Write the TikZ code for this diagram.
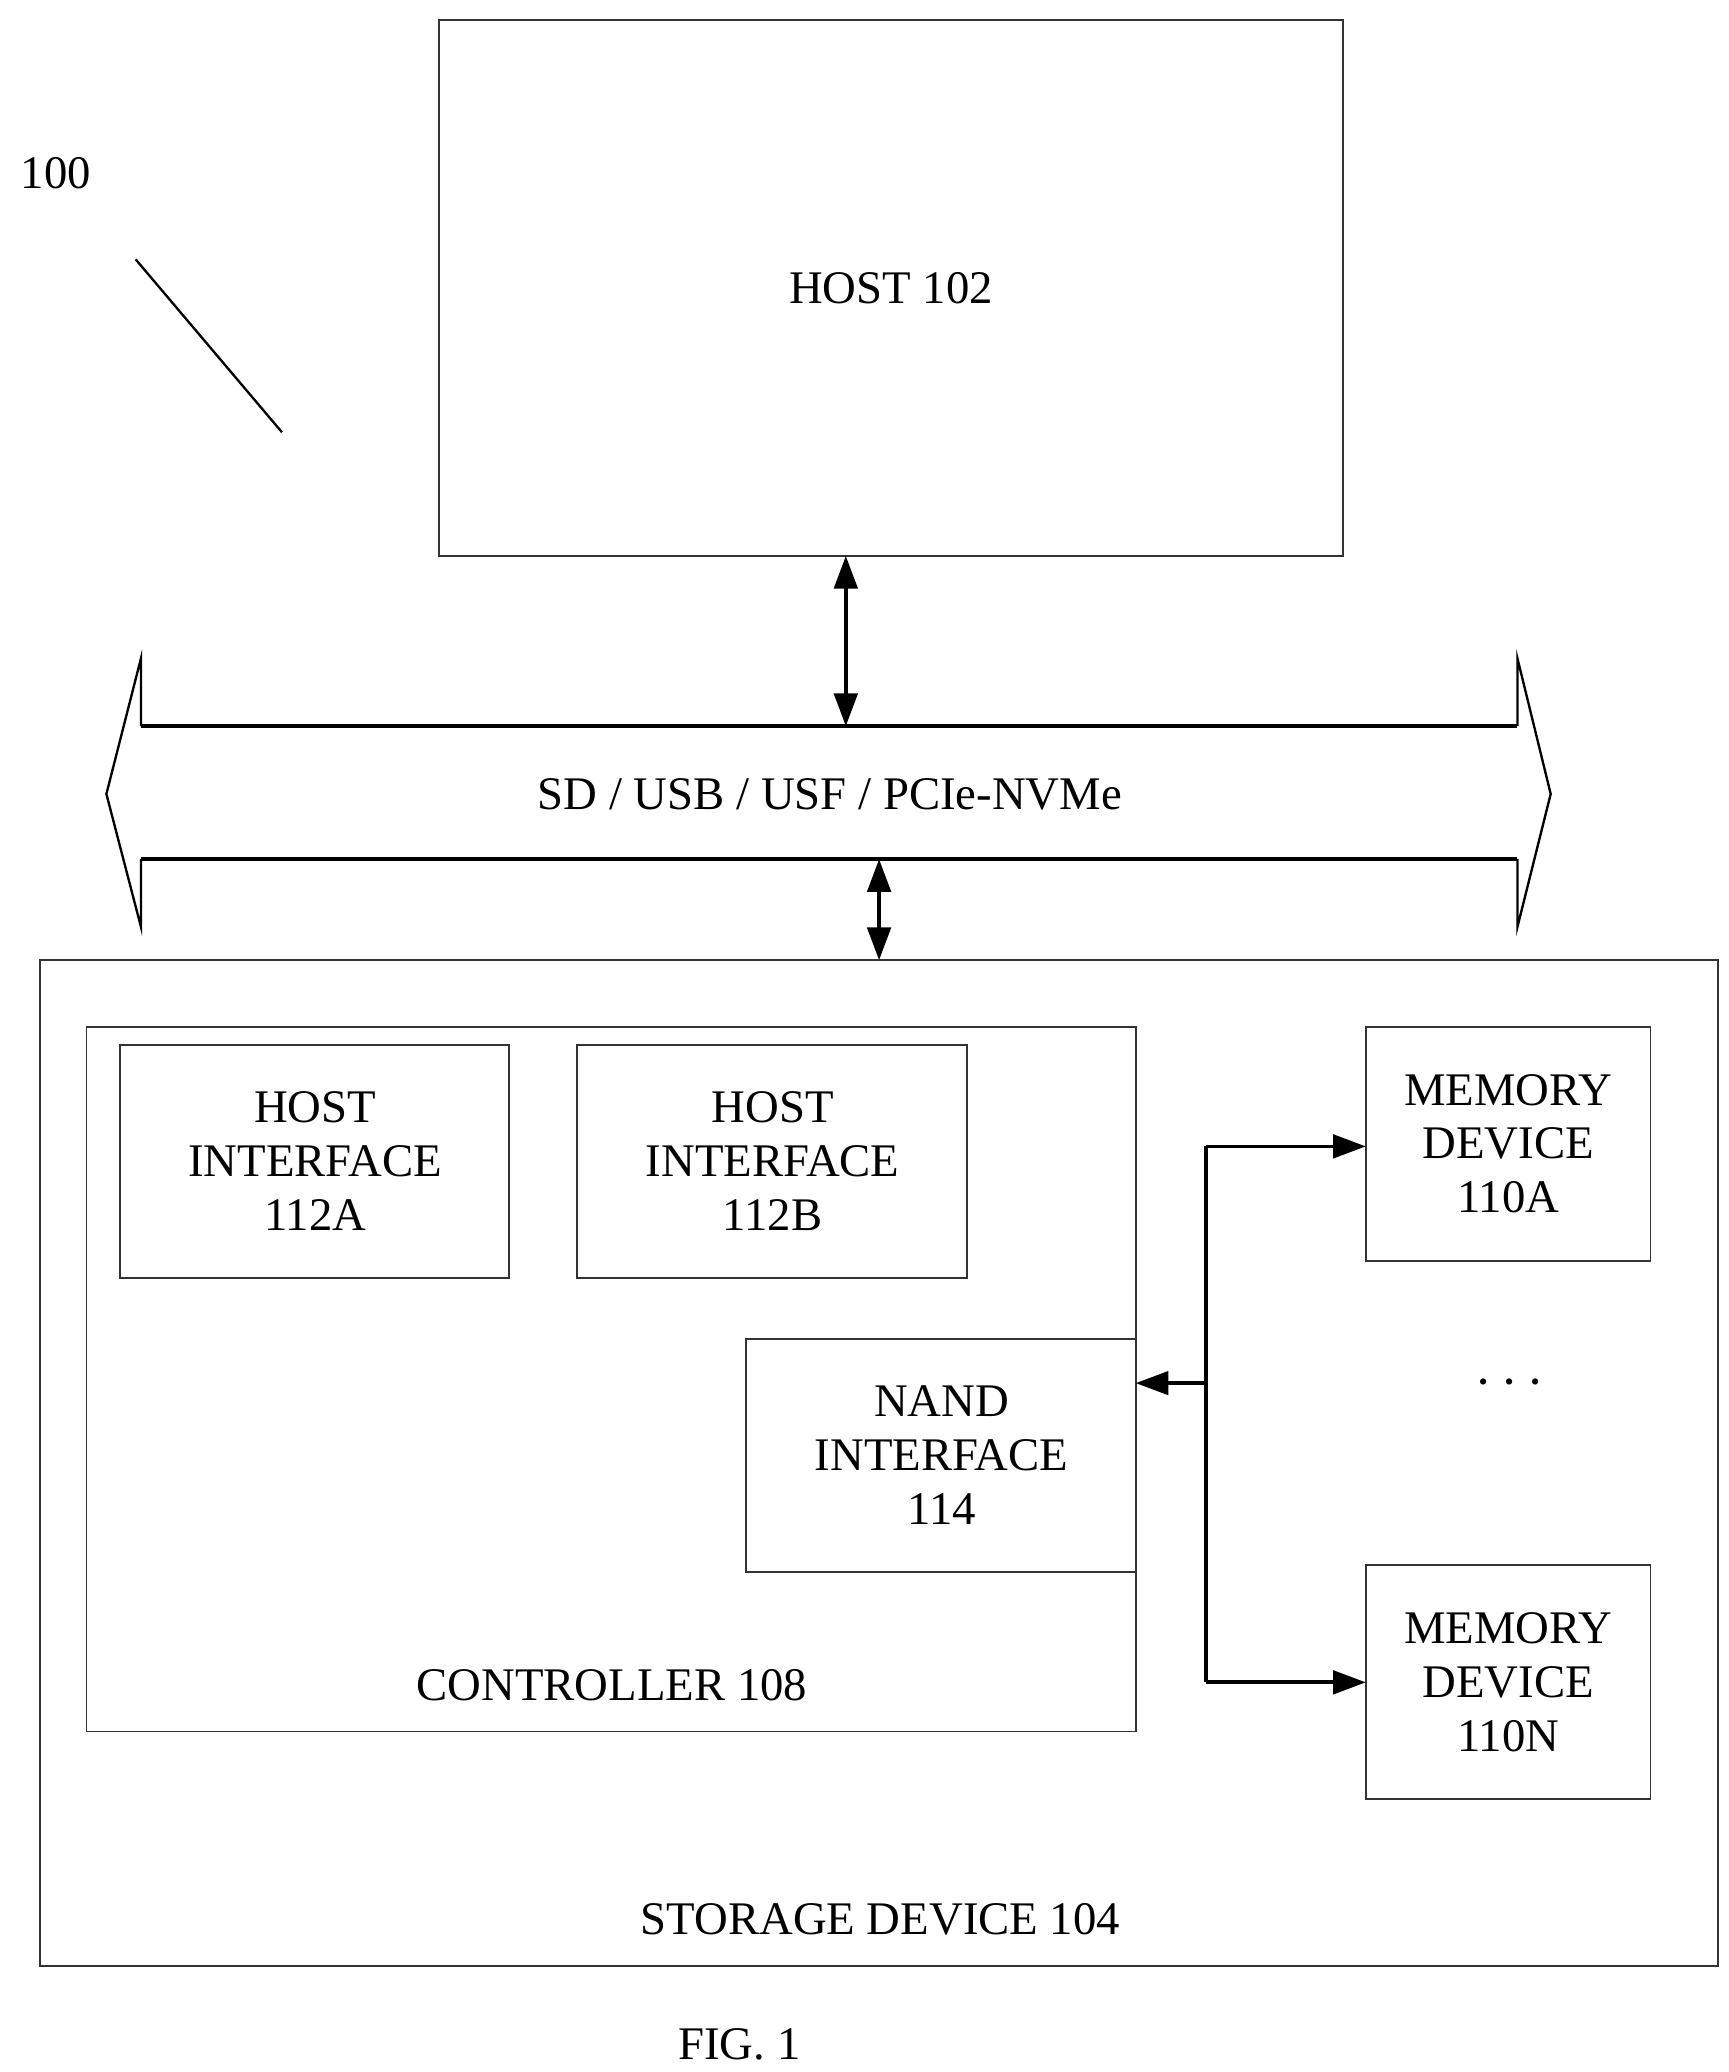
\documentclass[tikz,border=0pt]{standalone}
\usepackage{fontspec}
\setmainfont{Liberation Serif}
\usetikzlibrary{arrows.meta}
\begin{document}
\begin{tikzpicture}[x=0.02cm,y=-0.02cm,
  box/.style={draw=black!80,line width=0.8pt},
  lbl/.style={font=\fontsize{20}{23}\selectfont,align=center},
  arr/.style={line width=1.6pt,-{Triangle[length=14pt,width=10pt]}},
  darr/.style={line width=1.6pt,{Triangle[length=14pt,width=10pt]}-{Triangle[length=14pt,width=10pt]}}]
\useasboundingbox (0,0) rectangle (1300,1558);
\draw[box] (330,15) rectangle (1010,418);
\node[lbl] (host) at (670,217) {HOST 102};
\node[lbl] (l100) at (42,130) {100};
\coordinate (p1) at (102,195); \coordinate (p2) at (212,325);
\draw[line width=1pt] (p1) -- (p2);
\coordinate (hb) at (636,418); \coordinate (bt) at (636,546);
\draw[darr] (hb) -- (bt);
\draw[line width=1.6pt] (106,546) -- (1141,546);
\draw[line width=1.6pt] (106,646) -- (1141,646);
\draw[line width=1pt] (106,546) -- (106,495) -- (80,597) -- (106,697) -- (106,646);
\draw[line width=1pt] (1141,546) -- (1141,495) -- (1166,597) -- (1141,697) -- (1141,646);
\node[lbl] (bus) at (624,597) {SD / USB / USF / PCIe-NVMe};
\coordinate (bb) at (661,646); \coordinate (st) at (661,722);
\draw[darr] (bb) -- (st);
\draw[box] (30,722) rectangle (1292,1478);
\node[lbl] (stor) at (662,1443) {STORAGE DEVICE 104};
\draw[box] (65,772) rectangle (854,1302);
\node[lbl] (ctrl) at (460,1267) {CONTROLLER 108};
\draw[box] (90,786) rectangle (383,961);
\node[lbl] (hia) at (237,873) {HOST\\INTERFACE\\112A};
\draw[box] (434,786) rectangle (727,961);
\node[lbl] (hib) at (581,873) {HOST\\INTERFACE\\112B};
\draw[box] (561,1007) rectangle (854,1182);
\node[lbl] (nand) at (708,1094) {NAND\\INTERFACE\\114};
\draw[box] (1027,772) rectangle (1241,948);
\node[lbl] (ma) at (1134,860) {MEMORY\\DEVICE\\110A};
\draw[box] (1027,1177) rectangle (1241,1353);
\node[lbl] (mn) at (1134,1265) {MEMORY\\DEVICE\\110N};
\node[font=\fontsize{30}{30}\selectfont] (dots) at (1135,1040) {$\cdots$};
\coordinate (ja) at (907,862); \coordinate (jn) at (907,1265); \coordinate (jm) at (907,1040);
\coordinate (maw) at (1027,862); \coordinate (mnw) at (1027,1265); \coordinate (ne) at (854,1040);
\draw[line width=1.6pt] (ja) -- (jn);
\draw[arr] (ja) -- (maw);
\draw[arr] (jn) -- (mnw);
\draw[arr] (jm) -- (ne);
\node[lbl] (fig) at (556,1537) {FIG. 1};
\end{tikzpicture}
\end{document}
